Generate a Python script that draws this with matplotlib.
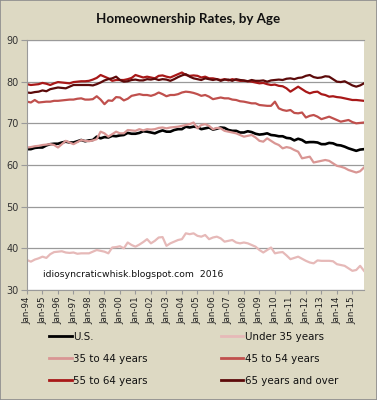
import matplotlib
matplotlib.use("Agg")
import matplotlib.pyplot as plt
from matplotlib.lines import Line2D
from matplotlib.patches import Rectangle

tick_labels = ["Jan-94", "Jan-95", "Jan-96", "Jan-97", "Jan-98", "Jan-99", "Jan-00",
               "Jan-01", "Jan-02", "Jan-03", "Jan-04", "Jan-05", "Jan-06", "Jan-07",
               "Jan-08", "Jan-09", "Jan-10", "Jan-11", "Jan-12", "Jan-13", "Jan-14",
               "Jan-15"]

# quarterly, Q1 1994 .. Q4 2015
us = [63.8, 63.8, 64.1, 64.2, 64.2, 64.7, 65.0, 65.1, 65.1, 65.4, 65.6, 65.4,
      65.4, 65.7, 66.0, 65.7, 65.9, 66.0, 66.8, 66.4, 66.7, 66.6, 67.0, 66.9,
      67.1, 67.2, 67.7, 67.5, 67.5, 67.7, 68.1, 68.0, 67.8, 67.6, 68.0, 68.3,
      68.0, 68.0, 68.4, 68.6, 68.6, 69.2, 69.0, 69.2, 69.1, 68.6, 68.8, 69.0,
      68.5, 68.7, 69.0, 68.9, 68.4, 68.2, 68.2, 67.8, 67.8, 68.1, 67.9, 67.5,
      67.3, 67.4, 67.6, 67.2, 67.1, 66.9, 66.9, 66.5, 66.4, 65.9, 66.3, 66.0,
      65.4, 65.5, 65.5, 65.4, 65.0, 65.0, 65.3, 65.2, 64.8, 64.7, 64.4, 64.0,
      63.7, 63.4, 63.7, 63.8]
under35 = [37.2, 36.8, 37.3, 37.6, 38.0, 37.7, 38.6, 39.1, 39.2, 39.3, 39.0, 38.9,
           39.0, 38.7, 38.8, 38.8, 38.8, 39.2, 39.6, 39.4, 39.2, 38.8, 40.2, 40.3,
           40.5, 40.0, 41.4, 40.8, 40.4, 40.9, 41.5, 42.2, 41.2, 41.8, 42.6, 42.7,
           40.6, 41.2, 41.6, 42.0, 42.2, 43.6, 43.4, 43.6, 43.0, 42.8, 43.2, 42.2,
           42.6, 42.8, 42.4, 41.6, 41.8, 42.0, 41.4, 41.2, 41.4, 41.2, 40.8, 40.4,
           39.6, 39.0, 39.6, 40.2, 38.8, 39.0, 39.1, 38.3, 37.4, 37.7, 38.0, 37.5,
           37.0, 36.6, 36.4, 37.1, 37.0, 37.0, 37.0, 36.9, 36.2, 36.0, 35.8, 35.2,
           34.6, 34.8, 35.8, 34.6]
age35_44 = [64.2, 64.3, 64.5, 64.6, 64.8, 64.9, 65.0, 64.8, 64.2, 65.0, 65.8, 65.4,
            65.0, 65.5, 66.0, 65.8, 65.7, 65.9, 66.2, 68.0, 67.6, 66.8, 67.4, 68.0,
            67.6, 67.6, 68.4, 68.3, 68.2, 68.6, 68.3, 68.6, 68.5, 68.6, 68.9, 69.0,
            68.8, 69.0, 69.1, 69.2, 69.4, 69.6, 69.8, 70.2, 68.8, 69.6, 69.8, 69.4,
            68.6, 68.9, 68.8, 68.2, 68.0, 67.8, 67.6, 67.2, 66.8, 67.0, 67.2, 66.6,
            65.8, 65.6, 66.4, 65.8, 65.2, 64.8, 64.0, 64.3, 64.1, 63.6, 63.2, 61.6,
            61.8, 62.0, 60.6, 60.8, 61.0, 61.2, 61.0, 60.4, 59.8, 59.6, 59.3, 58.8,
            58.5, 58.2, 58.5, 59.4]
age45_54 = [75.2, 75.0, 75.6, 75.0, 75.1, 75.2, 75.2, 75.4, 75.4, 75.5, 75.6, 75.7,
            75.7, 75.9, 76.0, 75.7, 75.7, 75.8, 76.5, 75.7, 74.6, 75.5, 75.4, 76.3,
            76.2, 75.5, 75.9, 76.6, 76.8, 77.0, 76.8, 76.8, 76.6, 76.9, 77.4, 77.0,
            76.5, 76.8, 76.8, 77.0, 77.4, 77.6, 77.5, 77.3, 77.0, 76.6, 76.8, 76.4,
            75.8, 76.0, 76.2, 76.0, 76.0, 75.7, 75.6, 75.3, 75.2, 75.0, 74.8, 74.8,
            74.4, 74.3, 74.2, 74.2, 75.2, 73.6, 73.2, 73.0, 73.2, 72.5, 72.4, 72.6,
            71.4, 71.8, 72.0, 71.6, 71.0, 71.3, 71.6, 71.2, 70.8, 70.4, 70.6, 70.8,
            70.3, 70.0, 70.1, 70.2]
age55_64 = [79.4, 79.2, 79.3, 79.4, 79.7, 79.5, 79.2, 79.6, 79.9, 79.8, 79.7, 79.6,
            79.9, 80.0, 80.1, 80.1, 80.2, 80.5, 80.9, 81.6, 81.2, 80.8, 80.2, 80.4,
            80.4, 80.4, 80.6, 80.9, 81.6, 81.3, 81.0, 81.2, 81.0, 80.8, 81.4, 81.5,
            81.2, 81.0, 81.4, 81.8, 82.2, 81.6, 81.4, 81.5, 81.4, 81.0, 81.2, 80.8,
            80.8, 80.6, 80.4, 80.6, 80.3, 80.6, 80.4, 80.2, 80.2, 80.1, 80.0, 79.8,
            79.6, 79.7, 79.4, 79.2, 79.3, 79.0, 78.9, 78.4, 77.6, 78.2, 78.8, 78.2,
            77.6, 77.2, 77.5, 77.6, 77.0, 76.8, 76.4, 76.5, 76.3, 76.2, 76.0, 75.8,
            75.6, 75.6, 75.5, 75.4]
age65_up = [77.4, 77.3, 77.5, 77.6, 77.9, 77.7, 78.2, 78.4, 78.6, 78.5, 78.4, 78.8,
            79.2, 79.2, 79.2, 79.2, 79.2, 79.1, 79.4, 79.8, 80.3, 80.6, 80.8, 81.2,
            80.4, 80.0, 80.1, 80.4, 80.5, 80.3, 80.3, 80.6, 80.5, 80.7, 80.4, 80.6,
            80.5, 80.2, 80.6, 81.1, 81.5, 81.8, 81.2, 80.8, 80.6, 80.4, 80.8, 80.6,
            80.4, 80.6, 80.2, 80.5, 80.5, 80.2, 80.6, 80.4, 80.3, 80.1, 80.4, 80.2,
            80.2, 80.3, 80.0, 80.3, 80.4, 80.5, 80.4, 80.7, 80.8, 80.6, 80.9, 81.0,
            81.4, 81.6, 81.1, 80.9, 81.0, 81.3, 81.2, 80.6, 80.0, 79.9, 80.1, 79.6,
            79.1, 78.8, 79.1, 79.6]

series = [("U.S.", us, "#000000", 1.9),
          ("Under 35 years", under35, "#E6B9B8", 1.6),
          ("35 to 44 years", age35_44, "#D99694", 1.6),
          ("45 to 54 years", age45_54, "#C0504D", 1.6),
          ("55 to 64 years", age55_64, "#A81818", 1.6),
          ("65 years and over", age65_up, "#5C0A0A", 1.6)]

bg = "#DDD9C3"
fig = plt.figure(figsize=(3.77, 4.0), dpi=100, facecolor=bg)
ax = fig.add_axes([27/377, 1-290/400, 337/377, 250/400])
ax.set_facecolor("white")

x = list(range(len(us)))
for name, vals, col, lw in series:
    ax.plot(x, vals, color=col, lw=lw, label=name, solid_joinstyle="round")

ax.set_xlim(0, len(us) - 1)
ax.set_ylim(30, 90)
ax.set_yticks(range(30, 91, 10))
ax.set_xticks(range(0, len(us), 4))
ax.set_xticklabels(tick_labels, rotation=90)
ax.grid(axis="y", color="#9a9a9a", lw=0.9)
ax.set_axisbelow(True)
ax.spines["right"].set_visible(False)
for s in ["left", "bottom", "top"]:
    ax.spines[s].set_color("#9a9a9a")
ax.tick_params(axis="y", labelsize=7, colors="#9a9a9a", labelcolor="#333333",
               length=4, pad=2)
ax.tick_params(axis="x", labelsize=6.3, colors="#9a9a9a", labelcolor="#222222",
               length=3, pad=1.5)

ax.text(0.047, 0.045, "idiosyncraticwhisk.blogspot.com  2016", transform=ax.transAxes,
        fontsize=6.7, color="#111111", ha="left", va="bottom")

fig.text(0.5, 1-19/400, "Homeownership Rates, by Age", ha="center", va="center",
         fontsize=9.6, fontweight="bold", family="Lato", color="#111111")

order = [0, 2, 4, 1, 3, 5]
handles = [Line2D([], [], color=series[i][2], lw=2.0) for i in order]
labels = [series[i][0] for i in order]
fig.legend(handles, labels, loc="upper left", bbox_to_anchor=(49/377, 1-332/400),
           ncol=2, frameon=False, fontsize=7.4, handlelength=2.2, handletextpad=0.15,
           columnspacing=7.1, labelspacing=1.17, borderaxespad=0, borderpad=0,
           labelcolor="#111111")

fig.patches.append(Rectangle((0, 0), 1, 1, transform=fig.transFigure, fill=False,
                             edgecolor="#8c8c8c", lw=1.2))

fig.savefig("out.png", dpi=100, facecolor=bg)
